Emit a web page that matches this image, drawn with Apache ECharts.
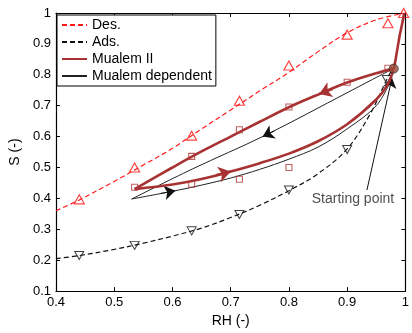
<!DOCTYPE html>
<html><head><meta charset="utf-8">
<script src="https://cdn.jsdelivr.net/npm/echarts@6/dist/echarts.min.js"></script>
<style>html,body{margin:0;padding:0;background:#fff;}#c{width:412px;height:333px;}</style>
</head><body><div id="c"></div>
<script>
// ---- data ----
const desCurveX = [0.40,0.44,0.50,0.55,0.60,0.65,0.70,0.75,0.80,0.85,0.90,0.95,1.00];
const desCurveY = [0.36,0.395,0.455,0.508,0.562,0.625,0.686,0.748,0.808,0.875,0.936,0.978,1.00];
const desMarkX = [0.44,0.535,0.633,0.715,0.80,0.90,0.97,0.997];
const desMarkY = [0.397,0.50,0.603,0.716,0.83,0.93,0.967,1.0];

const adsCurveX = [0.40,0.44,0.50,0.55,0.60,0.65,0.70,0.75,0.80,0.85,0.90,0.94,0.968,0.978];
const adsCurveY = [0.205,0.215,0.235,0.255,0.278,0.304,0.338,0.378,0.425,0.48,0.56,0.675,0.785,0.82];
const adsMarkX = [0.44,0.535,0.633,0.715,0.80,0.90,0.968];
const adsMarkY = [0.215,0.248,0.295,0.348,0.427,0.558,0.785];

const mualemLowX = [0.535,0.60,0.65,0.70,0.75,0.80,0.85,0.90,0.95,0.97,0.98,0.985,0.99,0.995,0.998];
const mualemLowY = [0.43,0.445,0.463,0.487,0.514,0.545,0.585,0.64,0.72,0.77,0.82,0.87,0.925,0.97,1.0];
const mualemUpX = [0.535,0.60,0.65,0.70,0.75,0.80,0.855,0.90,0.95,0.98];
const mualemUpY = [0.43,0.50,0.552,0.60,0.648,0.695,0.74,0.775,0.805,0.82];

const depLowX = [0.53,0.60,0.65,0.70,0.75,0.80,0.85,0.90,0.95,0.976];
const depLowY = [0.398,0.423,0.443,0.466,0.494,0.527,0.566,0.625,0.70,0.785];
const depUpX = [0.53,0.634,0.758,0.903,0.977];
const depUpY = [0.398,0.495,0.603,0.745,0.818];

const sqX = [0.535,0.633,0.715,0.80,0.90,0.97,0.633,0.715,0.80];
const sqY = [0.436,0.536,0.622,0.696,0.776,0.821,0.446,0.462,0.50];

const startPoint = [0.98, 0.82];

// arrow segments [x1,y1,x2,y2] (direction from 1 to 2)
const mualemArrows = [[0.875,0.755,0.852,0.738],[0.675,0.475,0.70,0.487]];
const depArrows = [[0.775,0.618,0.755,0.600],[0.58,0.416,0.605,0.425]];

const annoText = 'Starting point';
const annoPos = [0.91, 0.398];
const annoLine = [0.934, 0.427, 0.977, 0.79];

const xTicks = {min:0.4, max:1.0, interval:0.1};
const yTicks = {min:0.1, max:1.0, interval:0.1};
const legendNames = ['Des.','Ads.','Mualem II','Mualem dependent'];

// ---- build ----
const zip = (xs, ys) => xs.map((x,i)=>[x, ys[i]]);
const FONT = "'Liberation Sans', Arial, sans-serif";
const RED = '#ff1a1a', BROWN = '#a83232', BLACK = '#111';
const SM = 0.35;
const arrowML = (segs, color, width, size) => ({
  silent:true, symbol:['none','arrow'], symbolSize:size, animation:false,
  label:{show:false}, emphasis:{disabled:true},
  lineStyle:{color:color, width:width, type:'solid'},
  data: segs.map(s => [{coord:[s[0],s[1]]},{coord:[s[2],s[3]]}])
});

const axisCommon = (t, pos, showLabel) => ({
  type:'value', min:t.min, max:t.max, interval:t.interval, position:pos,
  splitLine:{show:false},
  axisLine:{show:true, onZero:false, lineStyle:{color:'#000', width:1.2}},
  axisTick:{show:true, inside:true, length:4, lineStyle:{color:'#000'}},
  axisLabel:{show:showLabel, color:'#000', fontSize:13, fontFamily:FONT, margin:5,
    formatter: v => String(+v.toFixed(1))}
});

const xMain = Object.assign(axisCommon(xTicks,'bottom',true), {
  name:'RH (-)', nameLocation:'middle', nameGap:19,
  nameTextStyle:{color:'#000', fontSize:14, fontFamily:FONT}});
const yMain = Object.assign(axisCommon(yTicks,'left',true), {
  name:'S (-)', nameLocation:'middle', nameGap:21,
  nameTextStyle:{color:'#000', fontSize:14, fontFamily:FONT}});

const option = {
  animation:false,
  backgroundColor:'#fff',
  grid:{left:54, right:1, top:13, bottom:39, containLabel:false},
  xAxis:[xMain, axisCommon(xTicks,'top',false)],
  yAxis:[yMain, axisCommon(yTicks,'right',false)],
  legend:{
    data:legendNames, orient:'vertical', left:57, top:15,
    itemWidth:25, itemHeight:14, itemGap:3,
    padding:[3,4,3,4],
    backgroundColor:'#fff', borderColor:'#000', borderWidth:1,
    itemStyle:{opacity:0},
    textStyle:{fontSize:14, fontFamily:FONT, color:'#000'},
    selectedMode:false
  },
  series:[
    {name:'Des.', type:'line', data:zip(desCurveX,desCurveY), smooth:SM, symbol:'none',
      lineStyle:{color:RED, width:1.2, type:[5,3]}, itemStyle:{color:RED}, z:2},
    {name:'Ads.', type:'line', data:zip(adsCurveX,adsCurveY), smooth:SM, symbol:'none',
      lineStyle:{color:BLACK, width:1.2, type:[5,3]}, itemStyle:{color:BLACK}, z:2},
    {name:'desMarks', type:'scatter', data:zip(desMarkX,desMarkY), symbol:'triangle', symbolSize:[10,9],
      itemStyle:{color:'rgba(0,0,0,0)', borderColor:RED, borderWidth:1.2}, z:3},
    {name:'adsMarks', type:'scatter', data:zip(adsMarkX,adsMarkY), symbol:'triangle', symbolRotate:180, symbolSize:[9,8],
      itemStyle:{color:'rgba(0,0,0,0)', borderColor:BLACK, borderWidth:1}, z:3},
    {name:'Mualem dependent', type:'line', data:zip(depLowX,depLowY), smooth:SM, symbol:'none',
      lineStyle:{color:'#222', width:1}, itemStyle:{color:'#222'}, z:4,
      markLine: arrowML(depArrows, '#111', 1, 11)},
    {name:'Mualem dependent', type:'line', data:zip(depUpX,depUpY), smooth:SM, symbol:'none',
      lineStyle:{color:'#222', width:1}, itemStyle:{color:'#222'}, z:4},
    {name:'Mualem II', type:'line', data:zip(mualemLowX,mualemLowY), smooth:SM, symbol:'none',
      lineStyle:{color:BROWN, width:2.6}, itemStyle:{color:BROWN}, z:5,
      markLine: arrowML(mualemArrows, BROWN, 2.6, 12)},
    {name:'Mualem II', type:'line', data:zip(mualemUpX,mualemUpY), smooth:SM, symbol:'none',
      lineStyle:{color:BROWN, width:2.6}, itemStyle:{color:BROWN}, z:5},
    {name:'squares', type:'scatter', data:zip(sqX,sqY), symbol:'rect', symbolSize:6,
      itemStyle:{color:'rgba(0,0,0,0)', borderColor:'#b03a3a', borderWidth:1.1}, z:6},
    {name:'start', type:'scatter', data:[startPoint], symbol:'circle', symbolSize:9,
      itemStyle:{color:'#9c4a38', borderColor:'#333', borderWidth:1}, z:7},
    {name:'anno', type:'scatter', data:[annoPos], symbol:'rect', symbolSize:2, z:8,
      itemStyle:{color:'rgba(0,0,0,0)'},
      label:{show:true, position:'inside', formatter:annoText, color:'#222', fontSize:14, fontFamily:FONT},
      markLine: arrowML([annoLine], '#111', 1, 10)}
  ]
};
const chart = echarts.init(document.getElementById('c'), null, {renderer:'canvas'});
chart.setOption(option);
</script></body></html>
